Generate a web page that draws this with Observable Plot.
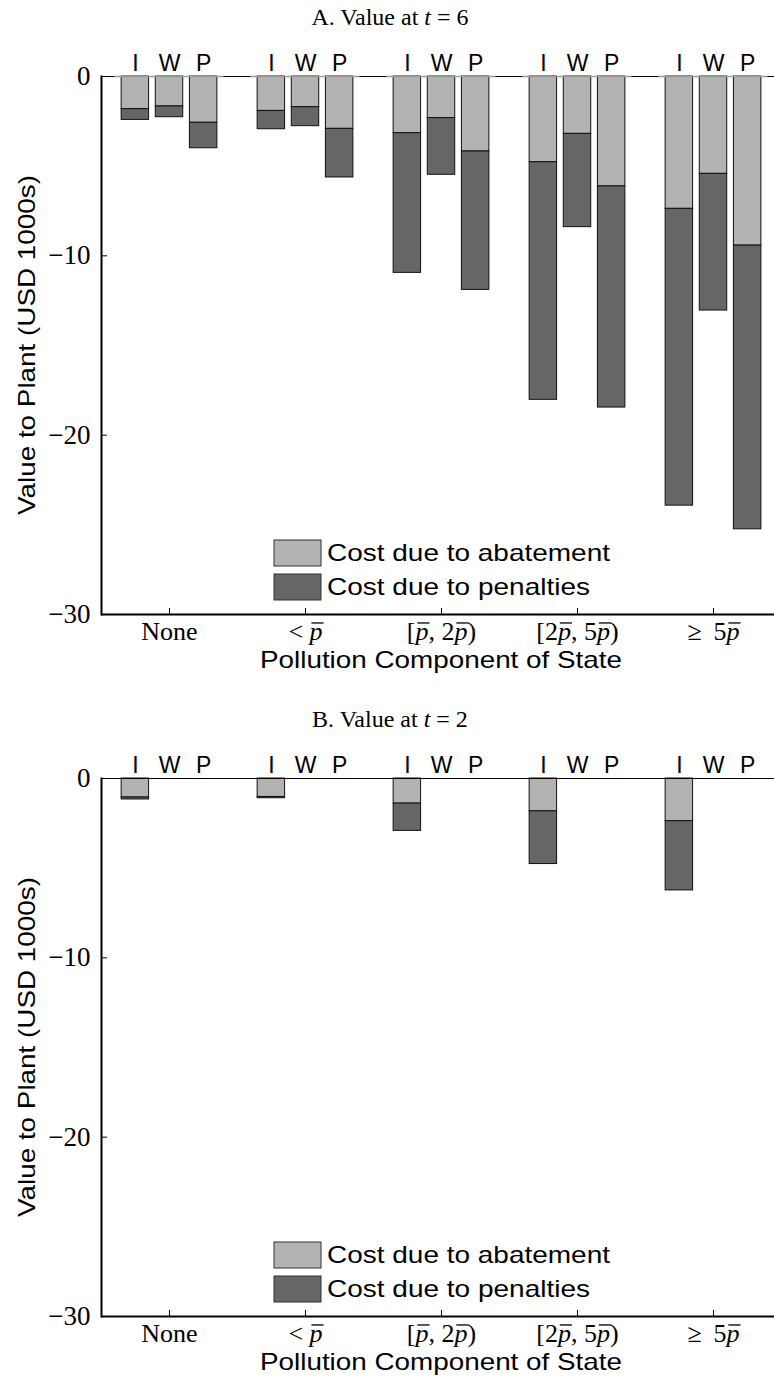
<!DOCTYPE html>
<html><head><meta charset="utf-8">
<script src="https://cdn.jsdelivr.net/npm/d3@7"></script>
<script src="https://cdn.jsdelivr.net/npm/@observablehq/plot@0.6"></script>
<style>
html,body{margin:0;padding:0;background:#fff;overflow:hidden;}
#wrap{position:relative;width:774px;height:1378px;overflow:hidden;background:#fff;}
.panel{position:absolute;left:0;width:781px;}
#overlay{position:absolute;left:0;top:0;pointer-events:none;}
</style></head><body>
<div id="wrap">
  <div id="pa" class="panel" style="top:0px"></div>
  <div id="pb" class="panel" style="top:702px"></div>
  <svg id="overlay" width="774" height="1378"></svg>
</div>
<script>
// ---------- data ----------
const categories = ["none", "lt", "p2p", "2p5p", "ge5p"];
const categoryLabels = ["None", "< p", "[p, 2p)", "[2p, 5p)", "\u2265\u2009 5p"];
const series = ["I", "W", "P"];
const costTypes = ["Cost due to abatement", "Cost due to penalties"];
const yTicks = [0, -10, -20, -30];
const panelTitles = ["A. Value at ", "B. Value at "];
const panelTimes = ["6", "2"];
const yLabel = "Value to Plant (USD 1000s)";
const xLabel = "Pollution Component of State";

// Panel A (t = 6): cost components, USD 1000s
const abateA_I = [1.82, 1.92, 3.16, 4.78, 7.38];
const abateA_W = [1.67, 1.71, 2.32, 3.20, 5.43];
const abateA_P = [2.58, 2.92, 4.18, 6.13, 9.43];
const penaltyA_I = [0.60, 1.02, 7.79, 13.25, 16.55];
const penaltyA_W = [0.60, 1.06, 3.16, 5.20, 7.62];
const penaltyA_P = [1.42, 2.71, 7.72, 12.33, 15.82];

// Panel B (t = 2)
const abateB_I = [1.06, 1.03, 1.40, 1.83, 2.38];
const abateB_W = [0, 0, 0, 0, 0];
const abateB_P = [0, 0, 0, 0, 0];
const penaltyB_I = [0.11, 0.07, 1.52, 2.94, 3.86];
const penaltyB_W = [0, 0, 0, 0, 0];
const penaltyB_P = [0, 0, 0, 0, 0];

// ---------- build tables ----------
function buildRows(abate, penalty) {
  const rows = [];
  [abate, penalty].forEach((set, k) => {
    categories.forEach((c, i) => {
      series.forEach((s, j) => {
        rows.push({category: c, series: s, kind: costTypes[k], value: -set[j][i]});
      });
    });
  });
  return rows;
}
const rowsA = buildRows([abateA_I, abateA_W, abateA_P], [penaltyA_I, penaltyA_W, penaltyA_P]);
const rowsB = buildRows([abateB_I, abateB_W, abateB_P], [penaltyB_I, penaltyB_W, penaltyB_P]);

const SANS = "'Liberation Sans', Arial, Helvetica, sans-serif";
const SERIF = "'Liberation Serif', 'Times New Roman', serif";
const fillColors = ["#b3b3b3", "#666666"];

function makePanel(rows, grayZero, height, marginBottom) {
  const marks = [
    Plot.barY(rows, {fx: "category", x: "series", y: "value", fill: "kind", stroke: "#111", strokeWidth: 1}),
    Plot.ruleY([0], {stroke: "#000", strokeWidth: 1.2})
  ];
  if (grayZero) marks.push(Plot.ruleY([0], {stroke: "#9a9a9a", strokeWidth: 1.6, insetLeft: 13.6, insetRight: 13.6}));
  marks.push(
    Plot.ruleY([-30], {stroke: "#000", strokeWidth: 2}),
    Plot.frame({anchor: "left", facetAnchor: "left", stroke: "#000", strokeWidth: 2}),
    Plot.axisY({ticks: yTicks, tickSize: -6, tickPadding: 17, fontSize: 27, fontFamily: SERIF, label: null,
      tickFormat: d => d === 0 ? "0" : "\u2212" + Math.abs(d)}),
    Plot.axisX({anchor: "top", tickSize: 0, tickPadding: 6, fontSize: 23, fontFamily: SANS, label: null}),
    Plot.axisFx({anchor: "bottom", tickSize: -6, tickPadding: 13, fontSize: 26, fontFamily: SERIF, label: null,
      tickFormat: c => categoryLabels[categories.indexOf(c)]})
  );
  return Plot.plot({
    width: 781, height, marginLeft: 101, marginRight: 0, marginTop: 76, marginBottom,
    style: {maxWidth: "none", background: "transparent", color: "#000", overflow: "visible"},
    fx: {domain: categories, paddingInner: 0, paddingOuter: 0, round: false, label: null},
    x: {domain: series, paddingInner: 0.196, paddingOuter: 0.59, round: false, label: null},
    y: {domain: [-30, 0], label: null},
    color: {domain: costTypes, range: fillColors},
    marks
  });
}

const NS = "http://www.w3.org/2000/svg";
// italic p with an overbar (p̄) in the category tick labels
function mathify(svg) {
  const g = document.createElementNS(NS, "g");
  g.setAttribute("aria-label", "overbars");
  svg.appendChild(g);
  svg.querySelectorAll('g[aria-label="fx-axis tick label"] text').forEach(t => {
    const s = t.textContent;
    if (!s.includes("p")) return;
    t.textContent = "";
    s.split(/(p)/).forEach(part => {
      if (!part) return;
      const ts = document.createElementNS(NS, "tspan");
      ts.textContent = part;
      if (part === "p") ts.setAttribute("font-style", "italic");
      t.appendChild(ts);
    });
    const fs = parseFloat(getComputedStyle(t).fontSize);
    const m = t.getCTM();
    for (let i = 0; i < s.length; i++) {
      if (s[i] !== "p") continue;
      const e = t.getExtentOfChar(i);
      const base = e.y + 0.891 * fs;
      const yb = base - 0.66 * fs;
      const a = new DOMPoint(e.x + 0.14 * e.width, yb).matrixTransform(m);
      const b = new DOMPoint(e.x + e.width * 1.08, yb).matrixTransform(m);
      const ln = document.createElementNS(NS, "line");
      ln.setAttribute("x1", a.x); ln.setAttribute("y1", a.y);
      ln.setAttribute("x2", b.x); ln.setAttribute("y2", b.y);
      ln.setAttribute("stroke", "#000"); ln.setAttribute("stroke-width", 1.3);
      g.appendChild(ln);
    }
  });
}

const svgA = makePanel(rowsA, true, 702, 88);
const svgB = makePanel(rowsB, false, 676, 62);
document.getElementById("pa").appendChild(svgA);
document.getElementById("pb").appendChild(svgB);
mathify(svgA); mathify(svgB);

// ---------- overlay: titles, axis labels, legends ----------
const ov = d3.select("#overlay");
const panelTop = [0, 702];
panelTop.forEach((top, p) => {
  const title = ov.append("text").attr("x", 390).attr("y", top + 25).attr("text-anchor", "middle")
    .attr("font-family", SERIF).attr("font-size", 24);
  title.append("tspan").text(panelTitles[p]);
  title.append("tspan").attr("font-style", "italic").text("t");
  title.append("tspan").text(" = " + panelTimes[p]);

  ov.append("text").attr("transform", `translate(35,${top + 345}) rotate(-90)`).attr("text-anchor", "middle")
    .attr("font-family", SANS).attr("font-size", 24).attr("textLength", 340).attr("lengthAdjust", "spacingAndGlyphs")
    .text(yLabel);
  ov.append("text").attr("x", 441).attr("y", top + 668).attr("text-anchor", "middle")
    .attr("font-family", SANS).attr("font-size", 24).attr("textLength", 362).attr("lengthAdjust", "spacingAndGlyphs")
    .text(xLabel);

  const legendLens = [283, 263];
  costTypes.forEach((name, k) => {
    const y0 = top + 540 + k * 34;
    ov.append("rect").attr("x", 274).attr("y", y0).attr("width", 47).attr("height", 26)
      .attr("fill", fillColors[k]).attr("stroke", "#333").attr("stroke-width", 1);
    ov.append("text").attr("x", 327).attr("y", y0 + 21).attr("font-family", SANS).attr("font-size", 24)
      .attr("textLength", legendLens[k]).attr("lengthAdjust", "spacingAndGlyphs").text(name);
  });
});
</script>
</body></html>
